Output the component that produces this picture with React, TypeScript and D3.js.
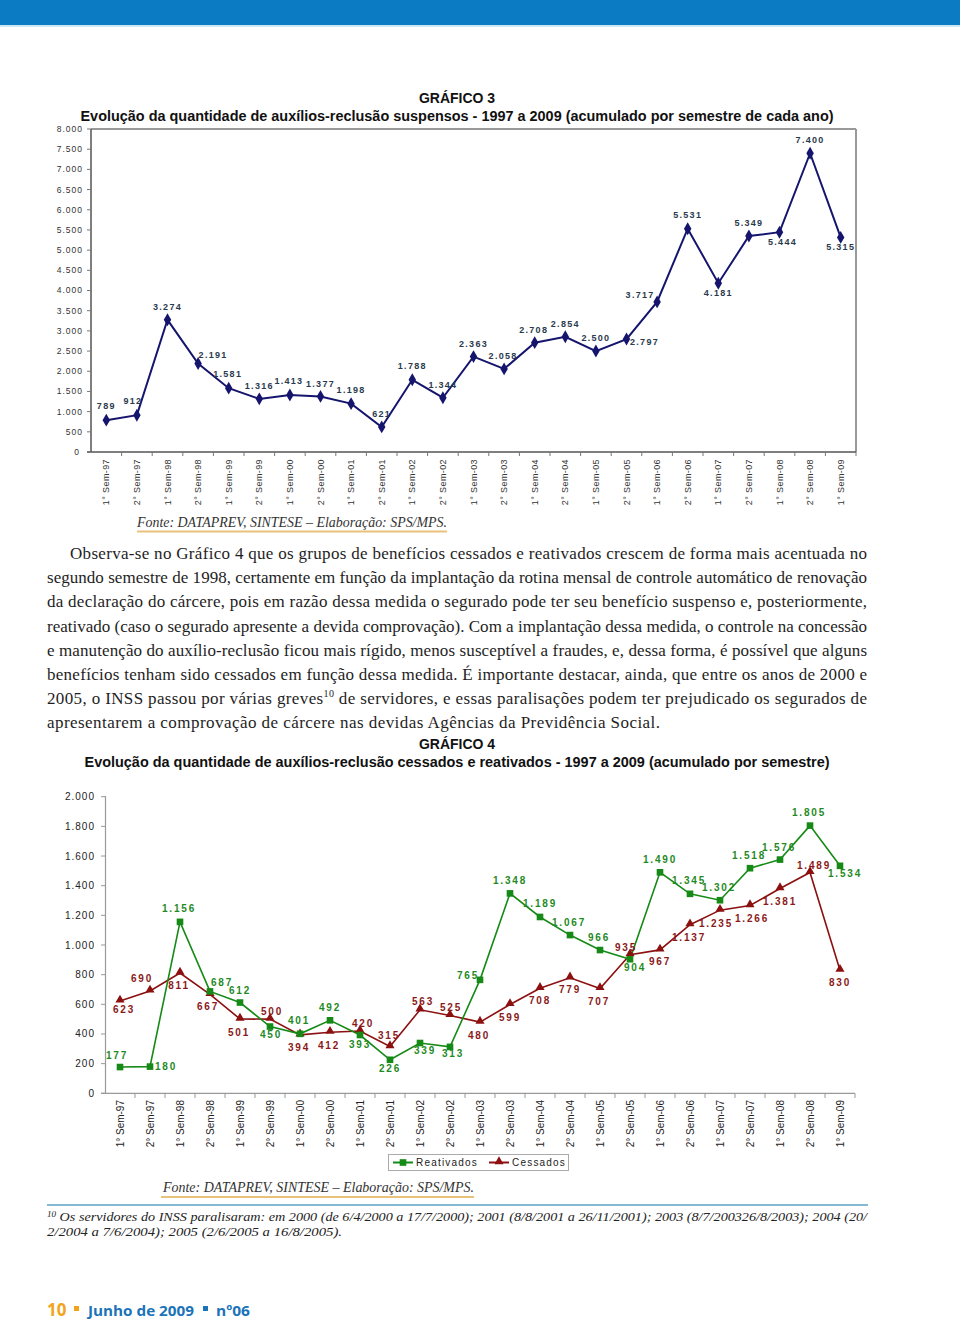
import React from "react";
import * as d3 from "d3";

const semesters = [
  "1° Sem-97", "2° Sem-97", "1° Sem-98", "2° Sem-98", "1° Sem-99", "2° Sem-99",
  "1° Sem-00", "2° Sem-00", "1° Sem-01", "2° Sem-01", "1° Sem-02", "2° Sem-02",
  "1° Sem-03", "2° Sem-03", "1° Sem-04", "2° Sem-04", "1° Sem-05", "2° Sem-05",
  "1° Sem-06", "2° Sem-06", "1° Sem-07", "2° Sem-07", "1° Sem-08", "2° Sem-08",
  "1° Sem-09",
];

const suspensos = [
  789, 912, 3274, 2191, 1581, 1316, 1413, 1377, 1198, 621, 1788, 1344, 2363,
  2058, 2708, 2854, 2500, 2797, 3717, 5531, 4181, 5349, 5444, 7400, 5315,
];

const reativados = [
  177, 180, 1156, 687, 612, 450, 401, 492, 393, 226, 339, 313, 765, 1348, 1189,
  1067, 966, 904, 1490, 1345, 1302, 1518, 1576, 1805, 1534,
];

const cessados = [
  623, 690, 811, 667, 501, 500, 394, 412, 420, 315, 563, 525, 480, 599, 708,
  779, 707, 935, 967, 1137, 1235, 1266, 1381, 1489, 830,
];

const ticks3 = [0, 500, 1000, 1500, 2000, 2500, 3000, 3500, 4000, 4500, 5000, 5500, 6000, 6500, 7000, 7500, 8000];
const ticks4 = [0, 200, 400, 600, 800, 1000, 1200, 1400, 1600, 1800, 2000];

// label placement offsets (styling)
const susLabelOff: [number, number][] = [
  [0, -14], [-4, -14], [0, -13], [15, -9], [-1, -14], [0, -13], [-1, -14], [0, -13],
  [0, -14], [0, -13], [0, -14], [0, -13], [0, -13], [-1, -13], [-1, -13], [0, -13],
  [0, -13], [18, 3], [-17, -7], [0, -14], [0, 10], [0, -13], [3, 10], [0, -13], [0, 9],
];
const reaLabelOff: [number, number][] = [
  [-3, -12], [16, 0], [-1, -13], [12, -9], [0, -12], [1, 8], [-1, -13], [0, -13],
  [0, 9], [0, 9], [5, 7], [3, 7], [-12, -4], [0, -13], [0, -13], [-1, -13], [-1, -13],
  [5, 8], [0, -13], [-1, -13], [-1, -13], [-1, -13], [-1, -12], [-1, -13], [5, 8],
];
const cesLabelOff: [number, number][] = [
  [4, 9], [-8, -12], [-1, 12], [-2, 12], [-1, 13], [2, -8], [-1, 13], [-1, 13],
  [3, -8], [-1, -11], [3, -8], [1, -8], [-1, 13], [0, 13], [0, 12], [0, 12], [-1, 13],
  [-4, -7], [0, 12], [-1, 13], [-4, 13], [2, 13], [0, 13], [4, -7], [0, 12],
];

const paragraph = [
  "Observa-se no Gráfico 4 que os grupos de benefícios cessados e reativados crescem de forma mais acentuada no",
  "segundo semestre de 1998, certamente em função da implantação da rotina mensal de controle automático de renovação",
  "da declaração do cárcere, pois em razão dessa medida o segurado pode ter seu benefício suspenso e, posteriormente,",
  "reativado (caso o segurado apresente a devida comprovação). Com a implantação dessa medida, o controle na concessão",
  "e manutenção do auxílio-reclusão ficou mais rígido, menos susceptível a fraudes, e, dessa forma, é possível que alguns",
  "benefícios tenham sido cessados em função dessa medida. É importante destacar, ainda, que entre os anos de 2000 e",
  "2005, o INSS passou por várias greves|10| de servidores, e essas paralisações podem ter prejudicado os segurados de",
  "apresentarem a comprovação de cárcere nas devidas Agências da Previdência Social.",
];

const locale = d3.formatLocale({ decimal: ",", thousands: ".", grouping: [3], currency: ["R$", ""] });
const fmt = locale.format(",d");

const SANS = "'Liberation Sans', Arial, sans-serif";
const SERIF = "'Liberation Serif', 'Times New Roman', serif";

function Chart3() {
  const x = d3.scaleBand<string>().domain(semesters).range([91, 856]);
  const y = d3.scaleLinear().domain([0, 8000]).range([452, 129]);
  const line = d3
    .line<number>()
    .x((_, i) => (x(semesters[i]) as number) + x.bandwidth() / 2)
    .y((d) => y(d));
  const diamond = d3.symbol(d3.symbolDiamond, 48)();
  const bw = x.bandwidth();
  return (
    <g>
      {/* frame */}
      <line x1={91} x2={856} y1={129} y2={129} stroke="#999" strokeWidth={2} />
      <line x1={856} x2={856} y1={129} y2={452} stroke="#999" strokeWidth={2} />
      <line x1={91} x2={91} y1={129} y2={452} stroke="#555" strokeWidth={1.5} />
      <line x1={87} x2={856} y1={452} y2={452} stroke="#555" strokeWidth={1.5} />
      {ticks3.map((t) => (
        <g key={t}>
          <line x1={87} x2={91} y1={y(t)} y2={y(t)} stroke="#777" />
          <text x={t === 0 ? 79 : 83} y={y(t)} dy="0.35em" textAnchor="end" fontFamily={SANS} fontSize={8.5} letterSpacing={t === 0 ? 0 : 1} fill="#333">
            {fmt(t)}
          </text>
        </g>
      ))}
      {semesters.map((s, i) => (
        <g key={s}>
          <line x1={(x(s) as number) + bw} x2={(x(s) as number) + bw} y1={452} y2={456} stroke="#777" />
          <text
            transform={`translate(${(x(s) as number) + bw / 2 + 3},${459}) rotate(-90)`}
            textAnchor="end"
            fontFamily={SANS}
            fontSize={9}
            letterSpacing={0.4}
            fill="#333"
          >
            {s}
          </text>
        </g>
      ))}
      <path d={line(suspensos) || ""} fill="none" stroke="#15156e" strokeWidth={2} />
      {suspensos.map((v, i) => {
        const cx = (x(semesters[i]) as number) + bw / 2;
        const cy = y(v);
        const [dx, dy] = susLabelOff[i];
        return (
          <g key={i}>
            <path d={diamond || ""} transform={`translate(${cx},${cy})`} fill="#15156e" />
            <text x={cx + dx} y={cy + dy} dy="0.35em" textAnchor="middle" fontFamily={SANS} fontSize={9} fontWeight="bold" letterSpacing={1.3} fill="#2a3a4e">
              {fmt(v)}
            </text>
          </g>
        );
      })}
    </g>
  );
}

function Chart4() {
  const x = d3.scaleBand<string>().domain(semesters).range([105, 855]);
  const y = d3.scaleLinear().domain([0, 2000]).range([1093.3, 796.7]);
  const bw = x.bandwidth();
  const cxOf = (i: number) => (x(semesters[i]) as number) + bw / 2;
  const line = d3
    .line<number>()
    .x((_, i) => cxOf(i))
    .y((d) => y(d));
  const square = d3.symbol(d3.symbolSquare, 44)();
  const tri = d3.symbol(d3.symbolTriangle, 36)();
  const green = "#168a16";
  const red = "#8c1010";
  return (
    <g>
      <line x1={105.5} x2={105.5} y1={796} y2={1093.3} stroke="#999" strokeWidth={1.2} />
      <line x1={101} x2={855} y1={1093.3} y2={1093.3} stroke="#999" strokeWidth={1.2} />
      {ticks4.map((t) => (
        <g key={t}>
          <line x1={101} x2={105.5} y1={y(t)} y2={y(t)} stroke="#999" />
          <text x={95} y={y(t)} dy="0.35em" textAnchor="end" fontFamily={SANS} fontSize={10} letterSpacing={1} fill="#222">
            {fmt(t)}
          </text>
        </g>
      ))}
      {semesters.map((s, i) => (
        <g key={s}>
          <line x1={(x(s) as number) + bw} x2={(x(s) as number) + bw} y1={1093.3} y2={1098} stroke="#999" />
          <text
            transform={`translate(${cxOf(i) + 3.5},${1100}) rotate(-90)`}
            textAnchor="end"
            fontFamily={SANS}
            fontSize={10}
            fill="#222"
          >
            {s}
          </text>
        </g>
      ))}
      <path d={line(cessados) || ""} fill="none" stroke={red} strokeWidth={1.6} />
      <path d={line(reativados) || ""} fill="none" stroke={green} strokeWidth={1.6} />
      {cessados.map((v, i) => (
        <path key={"ct" + i} d={tri || ""} transform={`translate(${cxOf(i)},${y(v) - 1})`} fill={red} />
      ))}
      {reativados.map((v, i) => (
        <path key={"rs" + i} d={square || ""} transform={`translate(${cxOf(i)},${y(v)})`} fill={green} />
      ))}
      {cessados.map((v, i) => (
        <text key={"cl" + i} x={cxOf(i) + cesLabelOff[i][0]} y={y(v) + cesLabelOff[i][1]} dy="0.35em" textAnchor="middle" fontFamily={SANS} fontSize={10} fontWeight="bold" letterSpacing={1.8} fill="#8a1a1a">
          {fmt(v)}
        </text>
      ))}
      {reativados.map((v, i) => (
        <text key={"rl" + i} x={cxOf(i) + reaLabelOff[i][0]} y={y(v) + reaLabelOff[i][1]} dy="0.35em" textAnchor="middle" fontFamily={SANS} fontSize={10} fontWeight="bold" letterSpacing={1.8} fill="#1f8a1f">
          {fmt(v)}
        </text>
      ))}
      {/* legend */}
      <rect x={388.5} y={1154.5} width={180} height={16} fill="#fff" stroke="#aaa" strokeWidth={1} />
      <line x1={393} x2={413} y1={1162.5} y2={1162.5} stroke={green} strokeWidth={2} />
      <path d={square || ""} transform="translate(403,1162.5)" fill={green} />
      <text x={416} y={1162.5} dy="0.35em" fontFamily={SANS} fontSize={10} letterSpacing={1.2} fill="#222">Reativados</text>
      <line x1={489} x2={509} y1={1162.5} y2={1162.5} stroke={red} strokeWidth={2} />
      <path d={tri || ""} transform="translate(499,1161.5)" fill={red} />
      <text x={512} y={1162.5} dy="0.35em" fontFamily={SANS} fontSize={10} letterSpacing={1.2} fill="#222">Cessados</text>
    </g>
  );
}

function Paragraph() {
  return (
    <g fontFamily={SERIF} fontSize={17} fill="#1e1e1e">
      {paragraph.map((ln, i) => {
        const x0 = i === 0 ? 70 : 47;
        const last = i === paragraph.length - 1;
        const parts = ln.split("|");
        return (
          <text
            key={i}
            x={x0}
            y={559 + i * 24.2}
            textLength={last ? 613 : 867 - x0}
            lengthAdjust="spacing"
          >
            {parts.length === 1
              ? ln
              : [
                  <tspan key="a">{parts[0]}</tspan>,
                  <tspan key="b" fontSize={10} dy={-7}>{parts[1]}</tspan>,
                  <tspan key="c" dy={7}>{parts[2]}</tspan>,
                ]}
          </text>
        );
      })}
    </g>
  );
}

export default function App() {
  return (
    <div style={{ position: "absolute", left: 0, top: 0 }}>
      <svg width={960} height={1320} style={{ display: "block", background: "#fff" }}>
        <rect x={0} y={0} width={960} height={25} fill="#0b7bc3" />
        <rect x={0} y={25} width={960} height={2} fill="#cfe6f4" />

        <text x={457} y={103} textAnchor="middle" fontFamily="'Liberation Sans Narrow', 'Liberation Sans', sans-serif" fontSize={14} fontWeight="bold" fill="#111">GRÁFICO 3</text>
        <text x={457} y={121} textAnchor="middle" fontFamily={SANS} fontSize={14.5} fontWeight="bold" fill="#111" textLength={753} lengthAdjust="spacingAndGlyphs">
          Evolução da quantidade de auxílios-reclusão suspensos - 1997 a 2009 (acumulado por semestre de cada ano)
        </text>

        <Chart3 />

        <text x={137} y={527} fontFamily={SERIF} fontStyle="italic" fontSize={14} fill="#333" textLength={310} lengthAdjust="spacingAndGlyphs">
          Fonte: DATAPREV, SINTESE – Elaboração: SPS/MPS.
        </text>
        <line x1={137} x2={447} y1={531.5} y2={531.5} stroke="#e9c27a" strokeWidth={2} />

        <Paragraph />

        <text x={457} y={749} textAnchor="middle" fontFamily="'Liberation Sans Narrow', 'Liberation Sans', sans-serif" fontSize={14} fontWeight="bold" fill="#111">GRÁFICO 4</text>
        <text x={457} y={767} textAnchor="middle" fontFamily={SANS} fontSize={14} fontWeight="bold" fill="#111" textLength={745} lengthAdjust="spacingAndGlyphs">
          Evolução da quantidade de auxílios-reclusão cessados e reativados - 1997 a 2009 (acumulado por semestre)
        </text>

        <Chart4 />

        <text x={163} y={1192} fontFamily={SERIF} fontStyle="italic" fontSize={14} fill="#333" textLength={311} lengthAdjust="spacingAndGlyphs">
          Fonte: DATAPREV, SINTESE – Elaboração: SPS/MPS.
        </text>
        <line x1={161} x2={474} y1={1197} y2={1197} stroke="#e9c27a" strokeWidth={2} />

        <line x1={47} x2={868} y1={1205} y2={1205} stroke="#5aa3c4" strokeWidth={1.5} />
        <text x={47} y={1221} fontFamily={SERIF} fontStyle="italic" fontSize={12.5} fill="#222" textLength={820} lengthAdjust="spacingAndGlyphs">
          <tspan fontSize={8} dy={-4}>10</tspan>
          <tspan dy={4}> Os servidores do INSS paralisaram: em 2000 (de 6/4/2000 a 17/7/2000); 2001 (8/8/2001 a 26/11/2001); 2003 (8/7/200326/8/2003); 2004 (20/</tspan>
        </text>
        <text x={47} y={1236} fontFamily={SERIF} fontStyle="italic" fontSize={12.5} fill="#222" textLength={295} lengthAdjust="spacingAndGlyphs">
          2/2004 a 7/6/2004); 2005 (2/6/2005 a 16/8/2005).
        </text>

        <text x={47} y={1316} fontFamily="'Open Sans', sans-serif" fontSize={17} fontWeight="bold">
          <tspan fill="#f2a41c">10</tspan>
        </text>
        <rect x={74} y={1306} width={5} height={5} fill="#f2a41c" />
        <text x={88} y={1316} fontFamily="'Open Sans', sans-serif" fontSize={15} fontWeight="bold" fill="#1b73b8" textLength={106} lengthAdjust="spacingAndGlyphs">Junho de 2009</text>
        <rect x={203} y={1306} width={5} height={5} fill="#1b73b8" />
        <text x={216} y={1316} fontFamily="'Open Sans', sans-serif" fontSize={15} fontWeight="bold" fill="#1b73b8" textLength={34} lengthAdjust="spacingAndGlyphs">nº06</text>
      </svg>
    </div>
  );
}
